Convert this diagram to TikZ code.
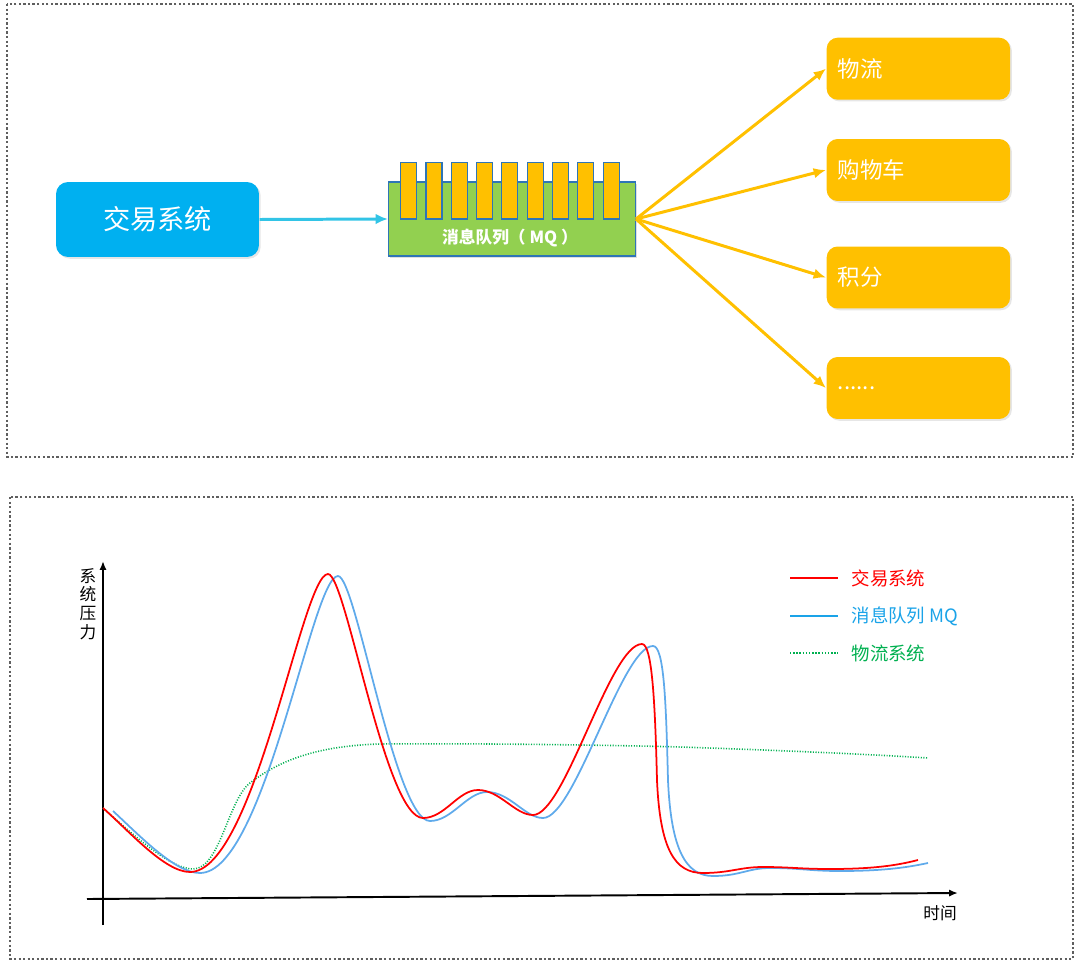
\documentclass[tikz,border=0pt]{standalone}
\usepackage{fontspec}
\setmainfont{Noto Sans CJK SC}
\usetikzlibrary{arrows.meta, shadows}
\definecolor{TradeColor}{RGB}{0,176,240}
\definecolor{QueueColor}{RGB}{146,208,80}
\definecolor{QueueBorder}{RGB}{46,117,182}
\definecolor{ConsumerColor}{RGB}{255,192,0}
\definecolor{LinkColor}{RGB}{50,196,230}
\definecolor{RedCurve}{RGB}{255,0,0}
\definecolor{BlueCurve}{RGB}{95,170,235}
\definecolor{BlueText}{RGB}{26,163,232}
\definecolor{GreenCurve}{RGB}{0,176,80}
\definecolor{FrameColor}{RGB}{95,95,95}

\tikzset{
  frame/.style={FrameColor, line width=1pt, dash pattern=on 1.3pt off 1.3pt},
  tradebox/.style={fill=TradeColor, rounded corners=0.24cm, text=white,
    font=\fontsize{15.5}{18}\selectfont, drop shadow={opacity=0.2, shadow xshift=1pt, shadow yshift=-1pt}},
  queuebox/.style={fill=QueueColor, draw=QueueBorder, line width=0.6pt,
    drop shadow={opacity=0.25, shadow xshift=1pt, shadow yshift=-1pt}},
  msgbar/.style={fill=ConsumerColor, draw=QueueBorder, line width=0.6pt},
  consumer/.style={fill=ConsumerColor, rounded corners=0.22cm, text=white, align=left,
    minimum width=3.67cm, minimum height=1.24cm, text width=3.22cm, inner xsep=0.22cm,
    font=\fontsize{12.8}{15}\selectfont, drop shadow={opacity=0.2, shadow xshift=1pt, shadow yshift=-1pt}},
  curve/.style={line width=1pt},
  axis/.style={line width=1.1pt, -{Latex[length=5pt, width=4pt]}},
  legtext/.style={anchor=west, font=\fontsize{10.5}{12}\selectfont},
}

\begin{document}
\begin{tikzpicture}[x=0.02cm, y=-0.02cm, >=Latex, thick]
  \useasboundingbox (0,0) rectangle (1080,967);
  % Frames
  \draw[frame] (7,4) rectangle (1073,457);
  \draw[frame] (10,497) rectangle (1073,959);

  % Producer
  \node[tradebox, minimum width=4.06cm, minimum height=1.5cm] (trade) at (157.5,219.5) {交易系统};
  % Queue with messages
  \node[queuebox, minimum width=4.94cm, minimum height=1.48cm] (mq) at (512,219) {};
  \foreach \i in {0,...,8} {\draw[msgbar] (400.7+25.3*\i,162.7) rectangle ++(16,56.3);}
  \node[text=white, font=\fontsize{9.5}{11}\selectfont\bfseries] (mqlabel) at (510,238) {消息队列（ MQ ）};

  % Consumers
  \node[consumer] (wuliu) at (918.4,68.7) {物流};
  \node[consumer] (cart) at (918.4,170) {购物车};
  \node[consumer] (points) at (918.4,277.5) {积分};
  \node[consumer] (more) at (918.4,388) {......};

  % Links
  \draw[-{Latex[length=7pt, width=6pt]}, LinkColor, line width=1.7pt] (trade.east) -- (mq.west);
  \foreach \c in {wuliu, cart, points, more}
    {\draw[-{Latex[length=7pt, width=6pt]}, ConsumerColor, line width=1.7pt] (mq.east) -- (\c.west);}

  % Axes
  \coordinate (ybot) at (103,925);
  \coordinate (ytop) at (103,561);
  \coordinate (xleft) at (87,899);
  \coordinate (xright) at (958,893);
  \draw[axis] (ybot) -- (ytop);
  \draw[axis] (xleft) -- (xright);
  \node[align=center, font=\fontsize{9.5}{10.6}\selectfont] (ylabel) at (88,604) {系\\统\\压\\力};
  \node[font=\fontsize{9.5}{11}\selectfont] (xlabel) at (940,913) {时间};

  % Curves
  \draw[GreenCurve, line width=0.9pt, dash pattern=on 0.6pt off 0.9pt]
    (103,808) .. controls (130,832) and (170,869) .. (193,869)
    .. controls (220,869) and (228,800) .. (250,783)
    .. controls (275,764) and (310,746) .. (380,744)
    .. controls (500,743) and (650,746) .. (680,747)
    .. controls (800,751) and (880,755) .. (928,758);
  \draw[BlueCurve, curve]
    (113,811) .. controls (140,836) and (175,873) .. (200,873)
    .. controls (265,873) and (312,576) .. (338,576)
    .. controls (356,576) and (395,821) .. (430,821)
    .. controls (452,821) and (467,792) .. (487,792)
    .. controls (510,792) and (525,818) .. (543,818)
    .. controls (575,818) and (622,646) .. (653,646)
    .. controls (664,646) and (666,700) .. (668,780)
    .. controls (671,850) and (686,876) .. (713,876)
    .. controls (740,876) and (748,868) .. (770,868)
    .. controls (800,868) and (810,871) .. (840,871)
    .. controls (880,871) and (905,868) .. (928,863);
  \draw[RedCurve, curve]
    (103,808) .. controls (130,832) and (165,872) .. (190,872)
    .. controls (255,872) and (302,574) .. (328,574)
    .. controls (346,574) and (385,818) .. (423,818)
    .. controls (445,818) and (458,790) .. (478,790)
    .. controls (500,790) and (515,815) .. (533,815)
    .. controls (565,815) and (610,644) .. (642,644)
    .. controls (652,644) and (655,700) .. (657,780)
    .. controls (660,850) and (675,873) .. (703,873)
    .. controls (730,873) and (740,867) .. (763,867)
    .. controls (790,867) and (800,869) .. (830,869)
    .. controls (870,869) and (895,866) .. (918,860);

  % Legend
  \coordinate (legred) at (790,578);
  \coordinate (legblue) at (790,616);
  \coordinate (leggreen) at (790,653);
  \draw[RedCurve, line width=1.2pt] (legred) -- ++(48,0);
  \draw[BlueText, line width=1.2pt] (legblue) -- ++(48,0);
  \draw[GreenCurve, line width=1pt, dash pattern=on 0.8pt off 1pt] (leggreen) -- ++(48,0);
  \node[legtext, text=RedCurve] (legtrade) at (845,578) {交易系统};
  \node[legtext, text=BlueText] (legmq) at (845,616) {消息队列 MQ};
  \node[legtext, text=GreenCurve] (legwuliu) at (845,653) {物流系统};
\end{tikzpicture}
\end{document}
